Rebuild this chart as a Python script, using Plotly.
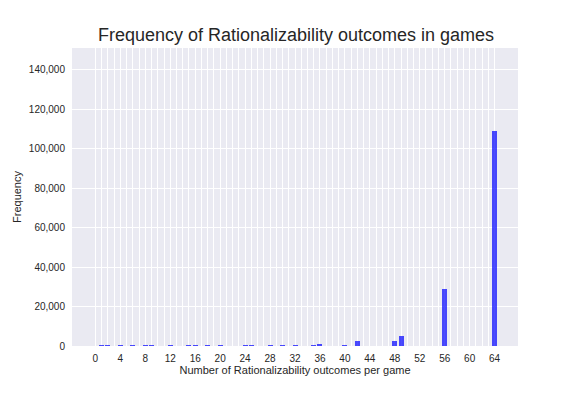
import plotly.graph_objects as go

outcomes = [1, 2, 4, 6, 8, 9, 12, 15, 16, 18, 20, 24, 25, 28, 30, 32, 35, 36, 40, 42, 48, 49, 56, 64]
frequency = [400, 400, 400, 400, 400, 400, 400, 400, 400, 400, 400, 400, 400, 400, 400, 400,
             400, 900, 400, 2600, 2600, 5200, 28900, 109100]

x_tick_vals = list(range(0, 65))
x_tick_text = [str(v) if v % 4 == 0 else "" for v in x_tick_vals]
y_tick_vals = [0, 20000, 40000, 60000, 80000, 100000, 120000, 140000]

fig = go.Figure(
    go.Bar(
        x=outcomes,
        y=frequency,
        width=0.8,
        marker=dict(color="rgba(0,0,255,0.7)", line=dict(width=0)),
    )
)

fig.update_layout(
    width=576,
    height=396,
    margin=dict(l=64, r=66, t=40, b=58, autoexpand=False),
    paper_bgcolor="white",
    plot_bgcolor="#EAEAF2",
    font=dict(family="Liberation Sans, Arial, sans-serif", color="#262626", size=10),
    title=dict(
        text="Frequency of Rationalizability outcomes in games",
        x=0.5, xanchor="center", xref="container",
        y=1 - 27 / 396, yanchor="middle", yref="container",
        font=dict(size=18, color="#262626"),
    ),
    showlegend=False,
    bargap=0,
)

fig.update_xaxes(
    automargin=False,
    range=[-3.75, 67.75],
    tickvals=x_tick_vals,
    ticktext=x_tick_text,
    showgrid=True,
    gridcolor="white",
    gridwidth=1,
    zeroline=False,
    showline=False,
    ticks="",
    tickangle=0,
    ticklabelstandoff=5,
    tickfont=dict(size=10, color="#262626"),
    title=dict(text="Number of Rationalizability outcomes per game",
               font=dict(size=11, color="#262626"), standoff=2),
)

fig.update_yaxes(
    automargin=False,
    range=[0, 151000],
    tickvals=y_tick_vals,
    tickformat=",",
    showgrid=True,
    gridcolor="white",
    gridwidth=1,
    zeroline=False,
    showline=False,
    ticks="",
    ticklabelstandoff=6,
    tickfont=dict(size=10, color="#262626"),
    title=dict(text="Frequency", font=dict(size=11, color="#262626"), standoff=4),
)

fig.write_html("out.html")
